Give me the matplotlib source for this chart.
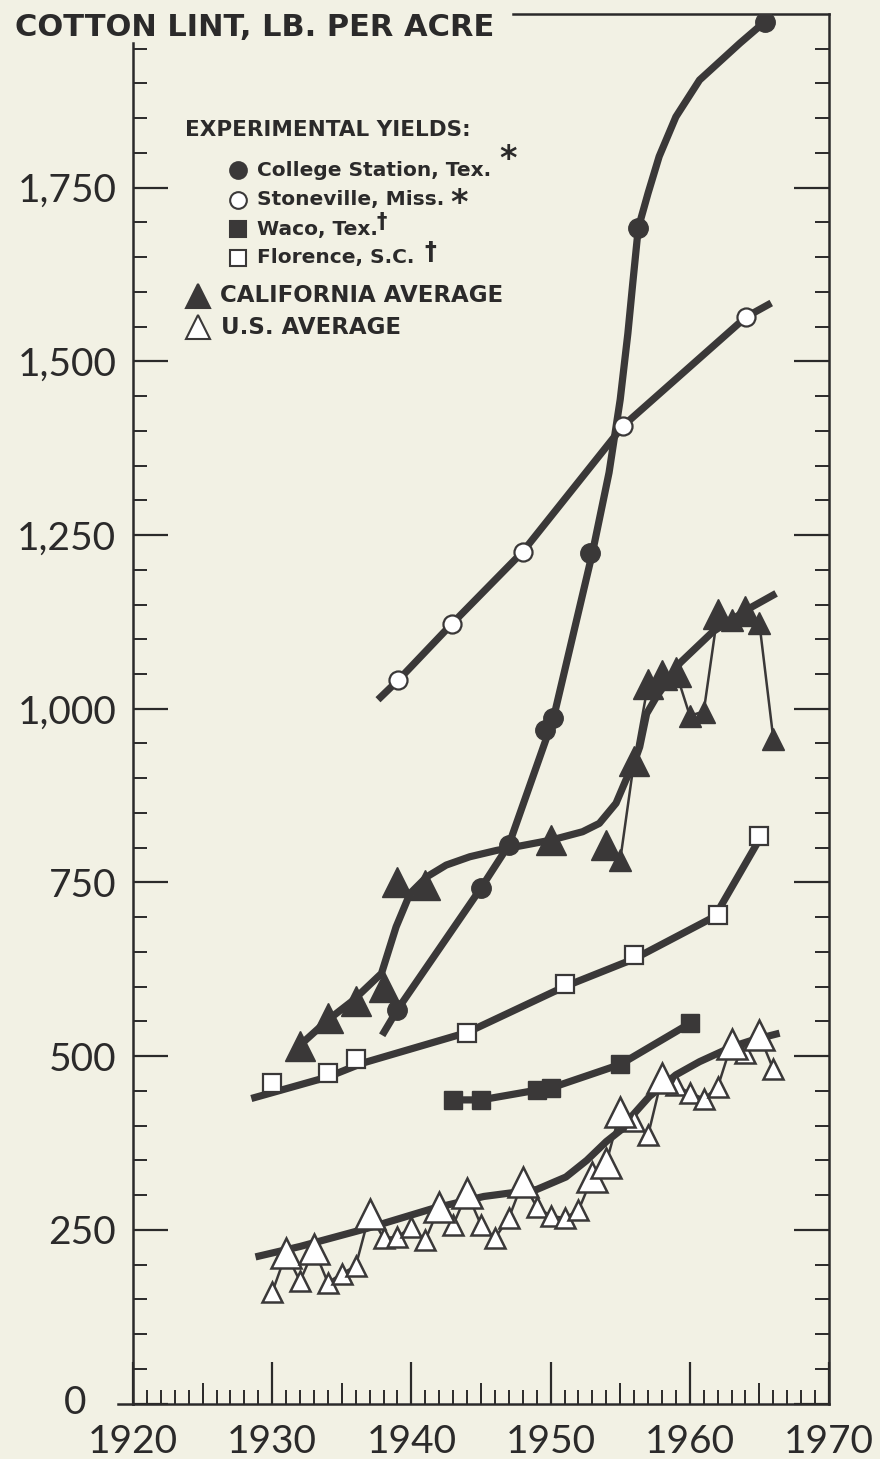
import matplotlib
matplotlib.use("Agg")
import matplotlib.pyplot as plt
from matplotlib.lines import Line2D

# --- data (lb. of lint per acre) ---
cs_years = [1939, 1945, 1947, 1949.6, 1950.2, 1952.8, 1956.3, 1965.4]
cs_yield = [567, 742, 804, 970, 986, 1224, 1692, 1989]
cs_curve_years = [1937.9, 1939, 1945, 1947, 1950.2, 1953.0, 1954.2, 1955.0, 1955.55,
                  1955.9, 1956.3, 1957.0, 1957.8, 1959.0, 1960.7, 1963.6, 1965.4]
cs_curve_yield = [530, 567, 742, 804, 986, 1224, 1340, 1445, 1540,
                  1612, 1692, 1742, 1795, 1852, 1905, 1958, 1989]

st_years = [1939.05, 1942.9, 1948.0, 1955.2, 1964.05]
st_yield = [1041, 1122, 1226, 1407, 1564]
st_line_years = [1937.6, 1939.05, 1942.9, 1948.0, 1955.2, 1964.05, 1965.85]
st_line_yield = [1013, 1041, 1122, 1226, 1407, 1564, 1584]

waco_years = [1943, 1945, 1949, 1950, 1955, 1960]
waco_yield = [437, 437, 451, 454, 488, 547]

fl_years = [1930, 1934, 1936, 1944, 1951, 1956, 1962, 1965]
fl_yield = [462, 475, 496, 534, 604, 645, 703, 817]
fl_line_years = [1928.5, 1934, 1936.5, 1944, 1951, 1956, 1961.8, 1965]
fl_line_yield = [439, 470, 490, 534, 600, 640, 701, 812]

ca_years = [1932, 1934, 1936, 1938, 1939, 1941, 1950, 1954, 1955, 1956, 1957,
            1958, 1959, 1960, 1961, 1962, 1963, 1964, 1965, 1966]
ca_yield = [514, 555, 580, 600, 750, 746, 811, 804, 782, 925, 1035,
            1049, 1053, 990, 996, 1136, 1128, 1141, 1123, 957]
ca_small = [1955, 1960, 1961, 1963, 1965, 1966]
ca_trend_years = [1931.9, 1934.0, 1935.8, 1937.85, 1938.9, 1939.9, 1941.1, 1942.5,
                  1944.2, 1946.1, 1950.05, 1952.3, 1953.5, 1954.7, 1955.4, 1955.9,
                  1956.4, 1956.9, 1957.6, 1959.3, 1961.66, 1964.5, 1966.2]
ca_trend_yield = [514, 552, 580, 619, 686, 734, 758, 775,
                  787, 796, 811, 823, 835, 864, 897, 917,
                  945, 993, 1017, 1066, 1111, 1147, 1166]

us_years = list(range(1930, 1967))
us_yield = [160, 216, 176, 222, 174, 187, 198, 273, 238, 240, 254, 235, 283, 257,
            303, 257, 238, 267, 319, 283, 270, 267, 278, 326, 346, 420, 406, 386,
            469, 458, 447, 439, 455, 518, 504, 530, 481]
us_large = [1931, 1933, 1937, 1942, 1944, 1948, 1953, 1954, 1955, 1958, 1963, 1965]
us_trend_years = [1928.8, 1932.0, 1936.8, 1941.6, 1945.2, 1949.0, 1951.1, 1952.6,
                  1954.0, 1955.2, 1955.9, 1957.1, 1958.1, 1959.0, 1960.7, 1963.1,
                  1964.5, 1966.45]
us_trend_yield = [211, 226, 252, 281, 298, 308, 326, 350,
                  377, 396, 415, 442, 458, 473, 492, 514, 523, 533]

y_ticks = [0, 250, 500, 750, 1000, 1250, 1500, 1750]
y_tick_labels = ["0", "250", "500", "750", "1,000", "1,250", "1,500", "1,750"]
x_ticks = [1920, 1930, 1940, 1950, 1960, 1970]

BG = "#f2f1e4"
INK = "#3a3838"
TXT = "#2b2a2a"
THICK = 5.2
THIN = 1.8
LEG_FONT = ["DejaVu Sans"]

plt.rcParams["font.family"] = ["Lato", "DejaVu Sans"]

fig = plt.figure(figsize=(8.8, 14.59), dpi=100, facecolor=BG)
W, H = 880, 1459
ax = fig.add_axes([133 / W, 55.5 / H, 696 / W, 1389.5 / H])
ax.set_facecolor(BG)
ax.set_xlim(1920, 1970)
ax.set_ylim(0, 2000)

# thin year-to-year lines
ax.plot(us_years, us_yield, color=INK, lw=THIN, zorder=2)
late = [i for i, y in enumerate(ca_years) if y >= 1954]
ax.plot([ca_years[i] for i in late], [ca_yield[i] for i in late], color=INK, lw=THIN, zorder=2)

# thick drawn curves
kw = dict(color=INK, lw=THICK, solid_capstyle="butt", solid_joinstyle="round", zorder=3)
ax.plot(cs_curve_years, cs_curve_yield, **kw)
ax.plot(st_line_years, st_line_yield, **kw)
ax.plot(waco_years, waco_yield, **kw)
ax.plot(fl_line_years, fl_line_yield, **kw)
ax.plot(ca_trend_years, ca_trend_yield, **kw)
ax.plot(us_trend_years, us_trend_yield, **kw)

# markers
ax.plot(cs_years, cs_yield, "o", ms=14, color=INK, zorder=5)
ax.plot(st_years, st_yield, "o", ms=13, mfc="white", mec=INK, mew=1.6, zorder=5)
ax.plot(waco_years, waco_yield, "s", ms=13, color=INK, zorder=5)
ax.plot(fl_years, fl_yield, "s", ms=12.5, mfc="white", mec=INK, mew=1.6, zorder=5)

ca_big_x = [y for y in ca_years if y not in ca_small]
ca_big_y = [v for y, v in zip(ca_years, ca_yield) if y not in ca_small]
ca_sm_x = [y for y in ca_years if y in ca_small]
ca_sm_y = [v for y, v in zip(ca_years, ca_yield) if y in ca_small]
ax.plot(ca_big_x, ca_big_y, "^", ms=21, color=INK, zorder=5)
ax.plot(ca_sm_x, ca_sm_y, "^", ms=16, color=INK, zorder=5)

us_big_x = [y for y in us_years if y in us_large]
us_big_y = [v for y, v in zip(us_years, us_yield) if y in us_large]
us_sm_x = [y for y in us_years if y not in us_large]
us_sm_y = [v for y, v in zip(us_years, us_yield) if y not in us_large]
ax.plot(us_sm_x, us_sm_y, "^", ms=15, mfc="white", mec=INK, mew=1.8, zorder=5)
ax.plot(us_big_x, us_big_y, "^", ms=21, mfc="white", mec=INK, mew=1.8, zorder=6)

# axes frame
for side in ["left", "right", "bottom", "top"]:
    ax.spines[side].set_color(TXT)
    ax.spines[side].set_linewidth(1.8)
ax.spines["left"].set_bounds(0, 1958)
ax.spines["top"].set_bounds(1947.3, 1970)

ax.set_xticks(x_ticks)
ax.set_xticks(range(1920, 1971), minor=True)
ax.set_xticklabels([str(x) for x in x_ticks])
ax.set_yticks(y_ticks)
ax.set_yticks(range(0, 2000, 50), minor=True)
ax.set_yticklabels([""] + y_tick_labels[1:])
ax.tick_params(axis="x", which="major", direction="in", length=30, width=1.6,
               color=TXT, labelsize=28, pad=15, labelcolor=TXT)
ax.tick_params(axis="x", which="minor", direction="in", length=10, width=1.4, color=TXT)
ax.tick_params(axis="y", which="major", direction="in", length=25, width=1.6,
               color=TXT, labelsize=28, pad=12, labelcolor=TXT, right=True)
ax.tick_params(axis="y", which="minor", direction="in", length=10, width=1.4,
               color=TXT, right=True)

# 5-year ticks on the bottom axis
sec = ax.secondary_xaxis(0.0)
sec.set_xticks(range(1925, 1970, 10))
sec.set_xticklabels([])
sec.tick_params(direction="in", length=15, width=1.4, color=TXT)
sec.spines["bottom"].set_visible(False)

ax.text(-0.083, 0, "0", transform=ax.get_yaxis_transform(), ha="center", va="center",
        fontsize=28, color=TXT)
ax.plot([-0.022, 0], [0, 0], transform=ax.transAxes, color=TXT, lw=1.8, clip_on=False)

# title
fig.text(15 / W, 1 - 27 / H, "COTTON LINT, LB. PER ACRE", fontsize=22,
         fontweight="bold", color=TXT, va="center", ha="left", family=LEG_FONT)


# legend
def fx(px):
    return px / W


def fy(py):
    return 1 - py / H


def key(px, py, marker, ms, filled):
    fig.add_artist(Line2D([fx(px)], [fy(py)], marker=marker, ms=ms, color=INK,
                          mfc=INK if filled else "white", mec=INK, mew=1.5,
                          transform=fig.transFigure))


def ltext(px, py, s, size):
    return fig.text(fx(px), fy(py), s, fontsize=size, fontweight="bold", color=TXT,
                    va="center", family=LEG_FONT)


ltext(185, 130, "EXPERIMENTAL YIELDS:", 15.5)
rows = [(170, "o", True, "College Station, Tex."),
        (200, "o", False, "Stoneville, Miss."),
        (229, "s", True, "Waco, Tex."),
        (258, "s", False, "Florence, S.C.")]
labels = []
for py, mk, filled, label in rows:
    key(238, py, mk, 12, filled)
    labels.append(ltext(257, py, label, 14.5))

fig.canvas.draw()
renderer = fig.canvas.get_renderer()
ends = [t.get_window_extent(renderer).x1 for t in labels]
# footnote marks right after the labels
ltext(ends[0] + 8, 160, "*", 24)
ltext(ends[1] + 6, 203, "*", 24)
ltext(ends[2] - 1, 222, "\u2020", 15)
ltext(ends[3] + 10, 252, "\u2020", 17)

key(198, 296, "^", 17, True)
ltext(220, 296, "CALIFORNIA AVERAGE", 16.5)
key(198, 327, "^", 17, False)
ltext(221, 327, "U.S. AVERAGE", 16.5)

fig.savefig("out.png", dpi=100, facecolor=BG)
